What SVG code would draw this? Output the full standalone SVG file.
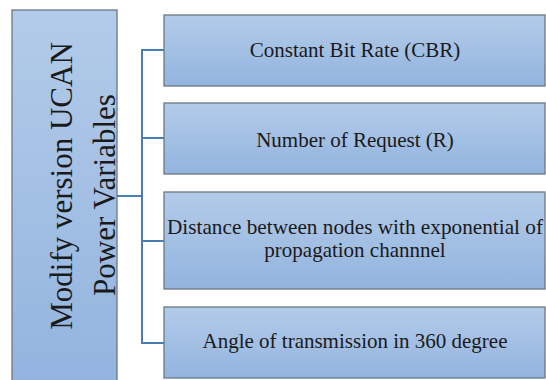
<svg xmlns="http://www.w3.org/2000/svg" width="546" height="380" viewBox="0 0 546 380">
<defs>
<linearGradient id="g" x1="0" y1="0" x2="0" y2="1">
<stop offset="0" stop-color="#b3cbe9"/>
<stop offset="1" stop-color="#93b4df"/>
</linearGradient>
<style>
.box{fill:url(#g);stroke:#6b7785;stroke-width:1.3}
text{font-family:'Liberation Serif',Tinos,'Times New Roman','DejaVu Serif',serif;fill:#1a1a1a;text-anchor:middle}
.t{font-size:21px}
.big{font-size:31px}
.c{fill:none;stroke:#4a7db4;stroke-width:2}
</style>
</defs>
<rect width="546" height="380" fill="#ffffff"/>
<g id="connectors">
<path class="c" d="M117 196 H142"/>
<path class="c" d="M164 50 H142 V343 H164"/>
<path class="c" d="M142 138 H164"/>
<path class="c" d="M142 241 H164"/>
</g>
<g id="root">
<rect class="box" x="12" y="10" width="105" height="372"/>
<text class="big" font-family="Liberation Serif, serif" transform="translate(72,186) rotate(-90)">Modify version UCAN</text>
<text class="big" font-family="Liberation Serif, serif" transform="translate(115,195) rotate(-90)">Power Variables</text>
</g>
<g id="cbr">
<rect class="box" x="164" y="15" width="381" height="71"/>
<text class="t" x="355" y="57">Constant Bit Rate (CBR)</text>
</g>
<g id="request">
<rect class="box" x="164" y="103" width="381" height="71"/>
<text class="t" x="355" y="147">Number of Request (R)</text>
</g>
<g id="distance">
<rect class="box" x="164" y="192" width="381" height="97"/>
<text class="t" x="355" y="234" textLength="376" lengthAdjust="spacingAndGlyphs">Distance between nodes with exponential of</text>
<text class="t" x="355" y="257">propagation channnel</text>
</g>
<g id="angle">
<rect class="box" x="164" y="307" width="381" height="71"/>
<text class="t" x="355" y="348">Angle  of transmission in 360 degree</text>
</g>
</svg>
